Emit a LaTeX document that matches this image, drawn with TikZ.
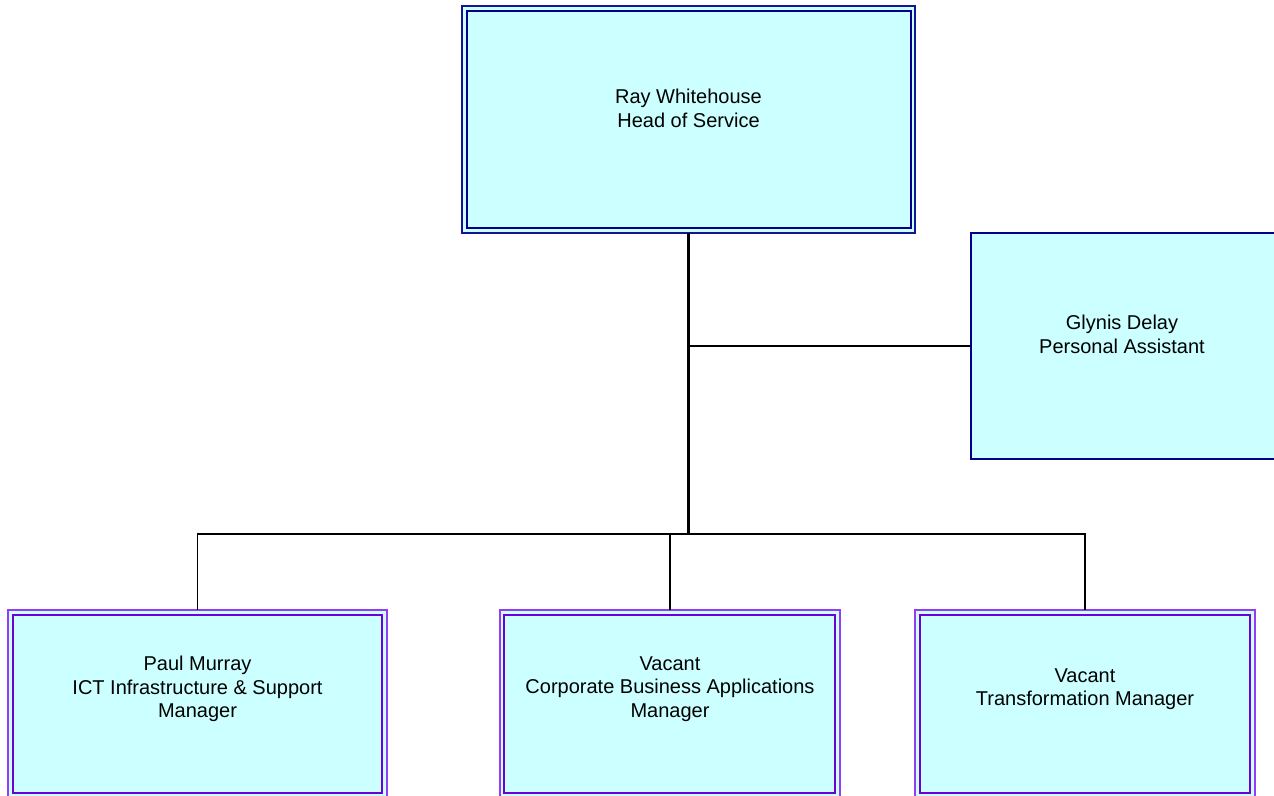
\documentclass[tikz,border=0pt]{standalone}
\usepackage{fontspec}
\setmainfont{Liberation Sans}
\definecolor{boxfill}{RGB}{204,255,255}
\definecolor{navy}{RGB}{20,20,150}
\definecolor{navyin}{RGB}{0,0,140}
\definecolor{purpout}{RGB}{150,60,245}
\definecolor{purpin}{RGB}{110,0,215}
\tikzset{
  box/.style={draw, fill=boxfill, anchor=north west, inner sep=0pt, outer sep=0pt, line width=1.8pt},
  bluebox/.style={box, draw=navy},
  purplebox/.style={box, draw=purpout},
  innerblue/.style={draw=navyin, line width=2pt},
  innerpurple/.style={draw=purpin, line width=2pt},
  label/.style={align=center, font=\fontsize{20}{23.5}\selectfont, inner sep=0pt},
  conn/.style={draw=black, line width=1.6pt},
  mainconn/.style={draw=black, line width=2.2pt}
}
\begin{document}
\begin{tikzpicture}[x=1pt, y=-1pt]
\useasboundingbox (0,0) rectangle (1274,795);
\clip (0,0) rectangle (1274,795);
% boxes
\node[bluebox, minimum width=453pt, minimum height=227pt] (head) at (462,6) {};
\draw[innerblue] ([shift={(5,5)}]head.north west) rectangle ([shift={(-4,-5)}]head.south east);
\node[box, draw=navyin, line width=1.8pt, minimum width=310pt, minimum height=226pt] (pa) at (971,233) {};
\node[purplebox, minimum width=379pt, minimum height=190pt] (m1) at (8,610) {};
\draw[innerpurple] ([shift={(5,5)}]m1.north west) rectangle ([shift={(-5,-7)}]m1.south east);
\node[purplebox, minimum width=340pt, minimum height=190pt] (m2) at (500,610) {};
\draw[innerpurple] ([shift={(4,5)}]m2.north west) rectangle ([shift={(-5,-7)}]m2.south east);
\node[purplebox, minimum width=340pt, minimum height=190pt] (m3) at (915,610) {};
\draw[innerpurple] ([shift={(5,5)}]m3.north west) rectangle ([shift={(-5,-7)}]m3.south east);
% texts
\node[label] (headtxt) at (688.5,108.5) {Ray Whitehouse\\Head of Service};
\node[label] (patxt) at (1122,334.5) {Glynis Delay\\Personal Assistant};
\node[label] (m1txt) at (197.5,689) {Paul Murray\\ICT Infrastructure \& Support\\Manager};
\node[label] (m2txt) at (670,689) {Vacant\\Corporate Business Applications\\Manager};
\node[label] (m3txt) at (1085,689) {Vacant\\Transformation Manager};
% connectors
\coordinate (j1) at (688.5,346);
\coordinate (j2) at (688.5,534);
\draw[mainconn] (head.south) -- (j2);
\draw[conn] (j1) -- (pa.west);
\draw[conn] (m1.north) |- (m3.north |- j2) -- (m3.north);
\draw[conn] (m2.north) -- (m2.north |- j2);
\end{tikzpicture}
\end{document}
